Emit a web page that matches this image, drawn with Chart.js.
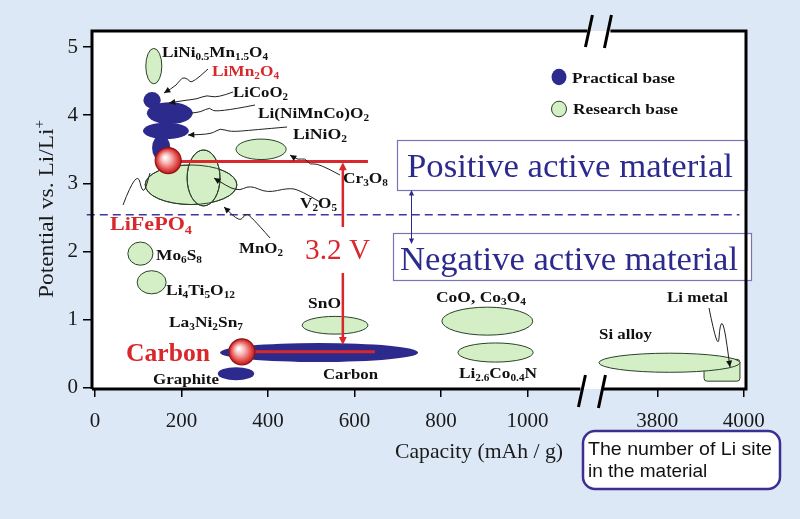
<!DOCTYPE html>
<html>
<head>
<meta charset="utf-8">
<script src="https://cdn.jsdelivr.net/npm/chart.js@4.4.1/dist/chart.umd.min.js"></script>
<style>
html, body { margin: 0; padding: 0; background: #dce8f6; }
#chart { display: block; }
</style>
</head>
<body>
<canvas id="chart" width="800" height="519"></canvas>
<script>
// capacity (mAh/g) and potential (V vs Li/Li+) of each material region
const practicalNames = ['LiFePO4 stem', 'LiNiO2', 'LiCoO2 / Li(NiMnCo)O2', 'LiMn2O4', 'Carbon', 'Graphite'];
const practicalCap   = [153, 164, 173, 132, 518, 326];
const practicalPot   = [3.52, 3.77, 4.03, 4.22, 0.52, 0.21];
const practicalDCap  = [21, 53, 53, 20, 229, 42];
const practicalDPot  = [0.19, 0.12, 0.16, 0.12, 0.14, 0.095];

const researchNames = ['LiNi0.5Mn1.5O4', 'Cr3O8', 'MnO2', 'V2O5', 'Mo6S8', 'Li4Ti5O12', 'SnO', 'CoO, Co3O4', 'Li2.6Co0.4N', 'Si alloy'];
const researchCap   = [136, 384, 222, 251, 105, 131, 555, 907, 926, 3828];
const researchPot   = [4.72, 3.50, 2.98, 3.08, 1.97, 1.55, 0.92, 0.98, 0.52, 0.37];
const researchDCap  = [18.5, 58, 106, 38, 29, 33.5, 76, 105, 87, 163];
const researchDPot  = [0.26, 0.15, 0.29, 0.41, 0.17, 0.17, 0.13, 0.205, 0.14, 0.14];

const liMetalCap = [3908, 3991];
const liMetalPot = [0.10, 0.42];

// LiFePO4 (positive) and Carbon (negative) working points
const cellCap    = [160, 335];
const cellPot    = [3.32, 0.53];
const cellEndCap = [631, 647];
const voltArrowCap = 573;
const voltArrowPot = [3.31, 0.63];
const dividerPot = 2.54;

const xTickValues = [0, 200, 400, 600, 800, 1000, 3800, 4000];
const yTickValues = [0, 1, 2, 3, 4, 5];

// broken axis: 1150..3650 is cut out
const toAxis = c => c > 2000 ? c - 2500 : c;
const fromAxis = v => v > 1150 ? v + 2500 : v;

const SERIF = "'Liberation Serif', 'Times New Roman', serif";
const SANS = "'Liberation Sans', Arial, sans-serif";
const NAVY = '#2d2a8e';
const GREEN = '#d4efc6';
const GREEN_EDGE = '#2a422a';
const RED = '#d8282c';

const practicalData = practicalCap.map((c, i) => ({ x: toAxis(c), y: practicalPot[i], dCap: practicalDCap[i], dPot: practicalDPot[i] }));
const researchData = researchCap.map((c, i) => ({ x: toAxis(c), y: researchPot[i], dCap: researchDCap[i], dPot: researchDPot[i] }));

// text labels: markup _{..} subscript, ^{..} superscript
const labels = [
  { t: 'LiNi_{0.5}Mn_{1.5}O_{4}', x: 162, y: 57, s: 15, w: 106 },
  { t: 'LiMn_{2}O_{4}', x: 212, y: 76, s: 15, w: 67, c: RED },
  { t: 'LiCoO_{2}', x: 233, y: 97, s: 15, w: 55 },
  { t: 'Li(NiMnCo)O_{2}', x: 258, y: 118, s: 15, w: 111 },
  { t: 'LiNiO_{2}', x: 293, y: 139, s: 15, w: 54 },
  { t: 'Cr_{3}O_{8}', x: 343, y: 183, s: 15, w: 45 },
  { t: 'V_{2}O_{5}', x: 300, y: 208, s: 15, w: 37 },
  { t: 'LiFePO_{4}', x: 110, y: 230, s: 19, w: 82, c: RED },
  { t: 'MnO_{2}', x: 239, y: 253, s: 15, w: 44 },
  { t: 'Mo_{6}S_{8}', x: 156, y: 260, s: 15, w: 46 },
  { t: 'Li_{4}Ti_{5}O_{12}', x: 166, y: 295, s: 15, w: 69 },
  { t: 'La_{3}Ni_{2}Sn_{7}', x: 169, y: 327, s: 15, w: 74 },
  { t: 'Carbon', x: 126, y: 361, s: 25, w: 84, c: RED },
  { t: 'Graphite', x: 153, y: 384, s: 15, w: 66 },
  { t: 'Carbon', x: 323, y: 379, s: 15, w: 55 },
  { t: 'SnO', x: 308, y: 308, s: 15, w: 33 },
  { t: 'CoO, Co_{3}O_{4}', x: 436, y: 302, s: 15, w: 90 },
  { t: 'Li_{2.6}Co_{0.4}N', x: 459, y: 378, s: 15, w: 78 },
  { t: 'Si alloy', x: 599, y: 339, s: 15, w: 53 },
  { t: 'Li metal', x: 667, y: 302, s: 15, w: 61 },
  { t: 'Practical base', x: 572, y: 83, s: 15, w: 103 },
  { t: 'Research base', x: 573, y: 114, s: 15, w: 105 },
  { t: '3.2 V', x: 305, y: 259, s: 29, w: 65, c: RED, weight: 'normal' },
  { t: 'Positive active material', x: 407, y: 177, s: 34, w: 326, c: NAVY, weight: 'normal' },
  { t: 'Negative active material', x: 400, y: 270, s: 34, w: 338, c: NAVY, weight: 'normal' },
  { t: 'Capacity (mAh / g)', x: 395, y: 458, s: 21, w: 168, c: '#1a1a1a', weight: 'normal' },
  { t: 'The number of Li site', x: 588, y: 455, s: 19, w: 184, c: '#111', weight: 'normal', f: SANS },
  { t: 'in the material', x: 588, y: 477, s: 19, c: '#111', weight: 'normal', f: SANS }
];

// wavy leader lines (pixel layout)
const callouts = [
  { p: [[208, 69], [192, 84], [188, 79], [182, 77], [177, 85], [164, 93]], a: true },
  { p: [[233, 92], [217, 98], [207, 95], [197, 99], [187, 100], [169, 103]], a: true },
  { p: [[255, 105], [215, 113], [210, 107], [201, 112], [191, 113]], a: false },
  { p: [[287, 127], [253, 130], [230, 132], [220, 128], [212, 134], [188, 135]], a: true },
  { p: [[340, 175], [318, 163], [310, 165], [305, 158], [298, 160], [290, 155]], a: true },
  { p: [[320, 202], [300, 190], [288, 188], [267, 193], [250, 185], [237, 192], [214, 178]], a: true },
  { p: [[270, 238], [250, 215], [245, 214], [240, 222], [224, 207]], a: true },
  { p: [[123, 205], [137, 168], [143, 197], [150, 173]], a: false },
  { p: [[709, 308], [718, 353], [720, 323], [724, 324], [730, 367]], a: true }
];

function parseRich(s) {
  const out = [];
  const re = /_\{([^}]*)\}|\^\{([^}]*)\}|([^_^]+)/g;
  let m;
  while ((m = re.exec(s))) {
    if (m[1] !== undefined) out.push({ t: m[1], k: 'sub' });
    else if (m[2] !== undefined) out.push({ t: m[2], k: 'sup' });
    else out.push({ t: m[3], k: '' });
  }
  return out;
}

function drawRich(ctx, L) {
  const parts = parseRich(L.t);
  const weight = L.weight || 'bold';
  const fam = L.f || SERIF;
  const font = k => `${weight} ${k ? L.s * 0.65 : L.s}px ${fam}`;
  let w0 = 0;
  parts.forEach(p => { ctx.font = font(p.k); p.w = ctx.measureText(p.t).width; w0 += p.w; });
  const sx = L.w ? L.w / w0 : 1;
  ctx.save();
  ctx.translate(L.x, L.y);
  if (L.rot) ctx.rotate(L.rot);
  ctx.scale(sx, 1);
  ctx.fillStyle = L.c || '#111';
  ctx.textBaseline = 'alphabetic';
  ctx.textAlign = 'left';
  let x = 0;
  parts.forEach(p => {
    ctx.font = font(p.k);
    const dy = p.k === 'sub' ? L.s * 0.22 : p.k === 'sup' ? -L.s * 0.42 : 0;
    ctx.fillText(p.t, x, dy);
    x += p.w;
  });
  ctx.restore();
}

function arrowHead(ctx, x0, y0, x1, y1, size, color) {
  const a = Math.atan2(y1 - y0, x1 - x0);
  ctx.save();
  ctx.fillStyle = color;
  ctx.beginPath();
  ctx.moveTo(x1, y1);
  ctx.lineTo(x1 - size * Math.cos(a - 0.45), y1 - size * Math.sin(a - 0.45));
  ctx.lineTo(x1 - size * Math.cos(a + 0.45), y1 - size * Math.sin(a + 0.45));
  ctx.closePath();
  ctx.fill();
  ctx.restore();
}

function drawCallout(ctx, c) {
  const p = c.p;
  ctx.save();
  ctx.strokeStyle = '#222';
  ctx.lineWidth = 1;
  ctx.beginPath();
  ctx.moveTo(p[0][0], p[0][1]);
  for (let i = 1; i < p.length - 1; i++) {
    const mx = (p[i][0] + p[i + 1][0]) / 2, my = (p[i][1] + p[i + 1][1]) / 2;
    ctx.quadraticCurveTo(p[i][0], p[i][1], mx, my);
  }
  const n = p.length;
  ctx.lineTo(p[n - 1][0], p[n - 1][1]);
  ctx.stroke();
  ctx.restore();
  if (c.a) arrowHead(ctx, p[n - 2][0], p[n - 2][1], p[n - 1][0], p[n - 1][1], 7, '#111');
}

function redBall(ctx, x, y, r) {
  const g = ctx.createRadialGradient(x - r * 0.25, y - r * 0.25, r * 0.05, x, y, r);
  g.addColorStop(0, '#ffffff');
  g.addColorStop(0.35, '#f7b5b5');
  g.addColorStop(0.8, '#e0403f');
  g.addColorStop(1, '#b51d1d');
  ctx.save();
  ctx.fillStyle = g;
  ctx.strokeStyle = '#8e1616';
  ctx.lineWidth = 1.2;
  ctx.beginPath();
  ctx.arc(x, y, r, 0, Math.PI * 2);
  ctx.fill();
  ctx.stroke();
  ctx.restore();
}

const diagramPlugin = {
  id: 'diagram',
  beforeDraw(chart) {
    const { ctx, chartArea: a } = chart;
    ctx.save();
    ctx.fillStyle = '#ffffff';
    ctx.fillRect(a.left, a.top, a.right - a.left, a.bottom - a.top);
    ctx.restore();
  },
  afterDatasetsDraw(chart) {
    const { ctx } = chart;
    const xs = chart.scales.x, ys = chart.scales.y;
    const X = c => xs.getPixelForValue(toAxis(c));
    const Y = v => ys.getPixelForValue(v);

    // Li metal block sits behind the Si alloy ellipse
    ctx.save();
    ctx.fillStyle = GREEN;
    ctx.strokeStyle = GREEN_EDGE;
    ctx.lineWidth = 1;
    ctx.beginPath();
    ctx.roundRect(X(liMetalCap[0]), Y(liMetalPot[1]), X(liMetalCap[1]) - X(liMetalCap[0]), Y(liMetalPot[0]) - Y(liMetalPot[1]), 3);
    ctx.fill();
    ctx.stroke();
    ctx.restore();

    const ellipse = (meta, d, i) => {
      const el = meta.data[i];
      const rx = Math.abs(xs.getPixelForValue(d.x + d.dCap) - el.x);
      const ry = Math.abs(ys.getPixelForValue(d.y + d.dPot) - el.y);
      ctx.beginPath();
      ctx.ellipse(el.x, el.y, rx, ry, 0, 0, Math.PI * 2);
    };

    // research base: fill then outline
    const rMeta = chart.getDatasetMeta(1);
    ctx.save();
    ctx.fillStyle = GREEN;
    ctx.strokeStyle = GREEN_EDGE;
    ctx.lineWidth = 1;
    researchData.forEach((d, i) => { ellipse(rMeta, d, i); ctx.fill(); ctx.stroke(); });
    // redraw outlines of overlapping MnO2 / V2O5
    [2, 3].forEach(i => { ellipse(rMeta, researchData[i], i); ctx.stroke(); });
    ctx.restore();

    // practical base
    const pMeta = chart.getDatasetMeta(0);
    ctx.save();
    ctx.fillStyle = NAVY;
    practicalData.forEach((d, i) => { ellipse(pMeta, d, i); ctx.fill(); });
    ctx.restore();

    // dashed divider between positive and negative materials
    ctx.save();
    ctx.strokeStyle = '#3b37a3';
    ctx.lineWidth = 1.5;
    ctx.setLineDash([8, 5]);
    ctx.beginPath();
    ctx.moveTo(X(-19), Y(dividerPot));
    ctx.lineTo(X(3990), Y(dividerPot));
    ctx.stroke();
    ctx.restore();

    // red working lines and 3.2 V arrow
    ctx.save();
    ctx.strokeStyle = RED;
    ctx.lineWidth = 3;
    for (let i = 0; i < 2; i++) {
      ctx.beginPath();
      ctx.moveTo(X(cellCap[i]), Y(cellPot[i]));
      ctx.lineTo(X(cellEndCap[i]), Y(cellPot[i]));
      ctx.stroke();
    }
    const ax = X(voltArrowCap);
    const yTop = Y(voltArrowPot[0]), yBot = Y(voltArrowPot[1]);
    ctx.lineWidth = 2.5;
    ctx.beginPath();
    ctx.moveTo(ax, yTop + 6); ctx.lineTo(ax, 227);
    ctx.moveTo(ax, 273); ctx.lineTo(ax, yBot - 6);
    ctx.stroke();
    ctx.restore();
    arrowHead(ctx, ax, yTop + 20, ax, yTop, 9, RED);
    arrowHead(ctx, ax, yBot - 20, ax, yBot, 9, RED);

    redBall(ctx, X(cellCap[0]) + 4, Y(cellPot[0]) - 1, 13);
    redBall(ctx, X(cellCap[1]) + 2, Y(cellPot[1]), 13);
  },
  afterDraw(chart) {
    const { ctx, chartArea: a } = chart;
    const xs = chart.scales.x;
    const brk = xs.getPixelForValue(1150);

    // positive / negative boxes
    ctx.save();
    ctx.fillStyle = '#ffffff';
    ctx.strokeStyle = '#7774b8';
    ctx.lineWidth = 1.2;
    ctx.fillRect(397.5, 140.5, 350, 50);
    ctx.strokeRect(397.5, 140.5, 350, 50);
    ctx.fillRect(393.5, 233.5, 358, 47);
    ctx.strokeRect(393.5, 233.5, 358, 47);
    // double arrow
    ctx.strokeStyle = NAVY;
    ctx.lineWidth = 1;
    ctx.beginPath();
    ctx.moveTo(411.5, 194); ctx.lineTo(411.5, 240);
    ctx.stroke();
    ctx.restore();
    arrowHead(ctx, 411.5, 200, 411.5, 190, 6, NAVY);
    arrowHead(ctx, 411.5, 234, 411.5, 244, 6, NAVY);

    // frame with axis break
    ctx.save();
    ctx.strokeStyle = '#000';
    ctx.lineWidth = 3;
    ctx.lineCap = 'butt';
    ctx.beginPath();
    ctx.moveTo(a.left, a.bottom); ctx.lineTo(a.left, a.top); ctx.lineTo(brk - 5, a.top);
    ctx.moveTo(brk + 18, a.top); ctx.lineTo(a.right, a.top); ctx.lineTo(a.right, a.bottom);
    ctx.lineTo(brk + 10, a.bottom);
    ctx.moveTo(brk - 12, a.bottom); ctx.lineTo(a.left, a.bottom);
    ctx.stroke();
    // break slashes
    ctx.lineWidth = 3;
    ctx.beginPath();
    ctx.moveTo(brk - 7, a.bottom - 14); ctx.lineTo(brk - 14, a.bottom + 18);
    ctx.moveTo(brk + 13, a.bottom - 14); ctx.lineTo(brk + 6, a.bottom + 19);
    ctx.moveTo(brk, a.top - 16); ctx.lineTo(brk - 7, a.top + 16);
    ctx.moveTo(brk + 19, a.top - 16); ctx.lineTo(brk + 12, a.top + 17);
    ctx.stroke();
    ctx.restore();

    // legend marks
    ctx.save();
    ctx.fillStyle = NAVY;
    ctx.beginPath(); ctx.ellipse(559, 77, 7.5, 8.3, 0, 0, Math.PI * 2); ctx.fill();
    ctx.fillStyle = GREEN; ctx.strokeStyle = GREEN_EDGE; ctx.lineWidth = 1;
    ctx.beginPath(); ctx.ellipse(559, 109, 7.5, 7.8, 0, 0, Math.PI * 2); ctx.fill(); ctx.stroke();
    ctx.restore();

    // note box
    ctx.save();
    ctx.fillStyle = '#ffffff';
    ctx.strokeStyle = '#3b2f91';
    ctx.lineWidth = 2.5;
    ctx.beginPath();
    ctx.roundRect(583, 431, 197, 58, 12);
    ctx.fill();
    ctx.stroke();
    ctx.restore();

    callouts.forEach(c => drawCallout(ctx, c));
    labels.forEach(L => drawRich(ctx, L));

    // rotated y axis title
    drawRich(ctx, { t: 'Potential vs. Li/Li^{+}', x: 53, y: 298, s: 21, w: 178, c: '#1a1a1a', weight: 'normal', rot: -Math.PI / 2 });
  }
};

new Chart(document.getElementById('chart'), {
  type: 'scatter',
  data: {
    datasets: [
      { label: 'Practical base', data: practicalData, pointRadius: 0 },
      { label: 'Research base', data: researchData, pointRadius: 0 }
    ]
  },
  options: {
    responsive: false,
    animation: false,
    devicePixelRatio: 1,
    layout: { padding: { left: 0, right: 54, top: 31, bottom: 0 } },
    plugins: { legend: { display: false }, tooltip: { enabled: false } },
    scales: {
      x: {
        type: 'linear',
        min: -6.9,
        max: 1505,
        border: { display: false },
        grid: { drawOnChartArea: false, color: '#000', lineWidth: 1.5, tickLength: 8 },
        ticks: {
          font: { family: SERIF, size: 21 },
          color: '#1a1a1a',
          padding: 12,
          autoSkip: false,
          maxRotation: 0,
          callback: v => String(fromAxis(v))
        },
        afterBuildTicks: s => { s.ticks = xTickValues.map(v => ({ value: toAxis(v) })); },
        afterFit: s => { s.height = 130; }
      },
      y: {
        type: 'linear',
        min: -0.015,
        max: 5.235,
        border: { display: false },
        grid: { drawOnChartArea: false, color: '#000', lineWidth: 1.5, tickLength: 9 },
        ticks: { font: { family: SERIF, size: 21 }, color: '#1a1a1a', padding: 5 },
        afterBuildTicks: s => { s.ticks = yTickValues.map(v => ({ value: v })); },
        afterFit: s => { s.width = 92; }
      }
    }
  },
  plugins: [diagramPlugin]
});
</script>
</body>
</html>
